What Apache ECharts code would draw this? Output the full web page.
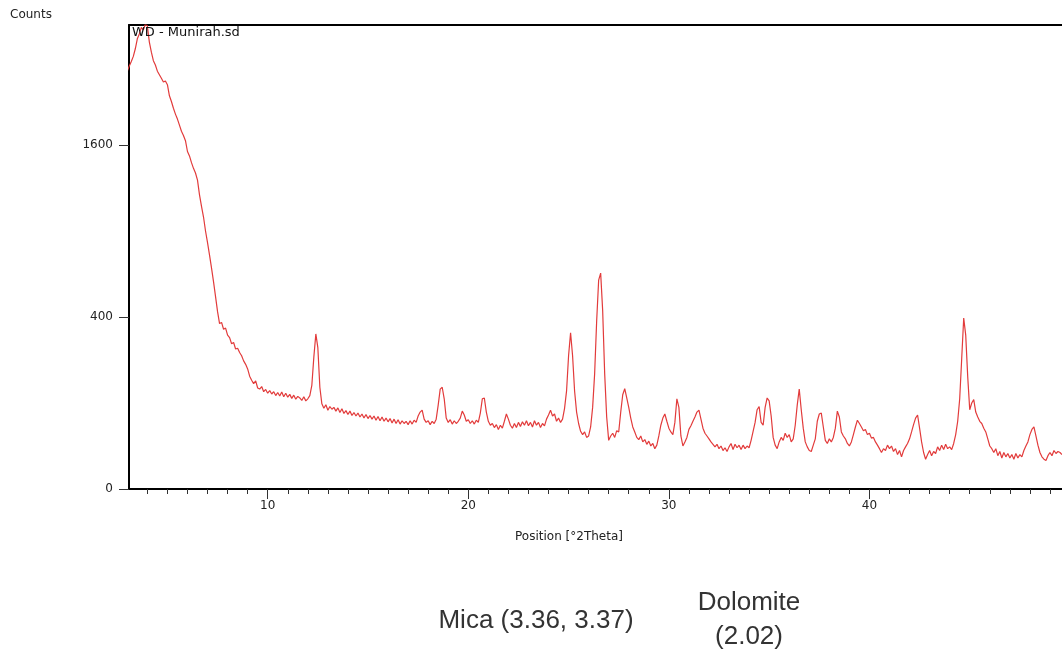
<!DOCTYPE html>
<html>
<head>
<meta charset="utf-8">
<script src="https://cdn.jsdelivr.net/npm/echarts@6/dist/echarts.min.js"></script>
<style>
  html, body { margin: 0; padding: 0; background: #fff; }
  #chart { width: 1062px; height: 651px; }
</style>
</head>
<body>
<div id="chart"></div>
<script>
// scan starts at 3.0 deg and steps 0.1 deg
var startAngle = 3.0;
var stepAngle = 0.1;

// counts, one row per degree (x.0 .. x.9)
var counts = [
  2360, 2420, 2470, 2530, 2620, 2740, 2800, 2880, 2850, 2920,   // 3
  2900, 2700, 2580, 2480, 2430, 2360, 2320, 2280, 2240, 2250,   // 4
  2210, 2090, 2030, 1960, 1900, 1850, 1790, 1730, 1690, 1640,   // 5
  1540, 1500, 1440, 1390, 1350, 1290, 1170, 1080, 1000, 900,    // 6
  820, 740, 660, 580, 500, 425, 370, 375, 345, 350,             // 7
  320, 310, 285, 290, 265, 268, 252, 240, 222, 210,             // 8
  195, 172, 160, 150, 158, 138, 135, 142, 128, 134,             // 9
  124, 131, 122, 128, 118, 126, 117, 127, 115, 124,             // 10
  114, 121, 111, 119, 109, 116, 112, 106, 115, 105,             // 11
  110, 118, 145, 235, 325, 270, 140, 98, 88, 96,                // 12
  84, 92, 86, 90, 82, 89, 79, 87, 77, 83,                       // 13
  75, 82, 73, 79, 72, 78, 70, 76, 68, 75,                       // 14
  67, 73, 66, 72, 64, 71, 63, 70, 62, 68,                       // 15
  61, 67, 59, 66, 58, 65, 57, 63, 58, 62,                       // 16
  56, 63, 57, 64, 60, 72, 80, 84, 66, 60,                       // 17
  63, 56, 62, 58, 66, 95, 135, 140, 110, 68,                    // 18
  60, 65, 57, 63, 58, 62, 68, 82, 74, 62,                       // 19
  65, 58, 63, 57, 64, 60, 78, 110, 112, 80,                     // 20
  62, 55, 58, 51, 56, 48, 55, 50, 62, 76,                       // 21
  66, 55, 50, 58, 51, 60, 53, 61, 55, 63,                       // 22
  54, 60, 52, 63, 55, 60, 51, 58, 54, 66,                       // 23
  74, 84, 72, 76, 62, 68, 60, 66, 88, 130,                      // 24
  240, 330, 240, 130, 80, 58, 45, 40, 44, 36,                   // 25
  38, 52, 90, 180, 380, 590, 630, 430, 180, 70,                 // 26
  32, 38, 42, 36, 46, 44, 80, 120, 136, 112,                    // 27
  90, 68, 52, 44, 36, 33, 38, 30, 33, 27,                       // 28
  31, 25, 28, 22, 26, 38, 55, 68, 76, 62,                       // 29
  50, 44, 40, 60, 110, 90, 38, 25, 30, 36,                      // 30
  48, 54, 62, 70, 80, 84, 66, 50, 42, 38,                       // 31
  34, 30, 27, 24, 27, 22, 25, 20, 23, 19,                       // 32
  24, 28, 21, 27, 23, 26, 21, 26, 22, 25,                       // 33
  23, 32, 45, 60, 85, 92, 60, 55, 90, 112,                      // 34
  105, 72, 36, 26, 22, 30, 36, 32, 42, 36,                      // 35
  40, 30, 34, 55, 95, 135, 85, 50, 30, 24,                      // 36
  20, 19, 26, 34, 62, 76, 78, 52, 32, 28,                       // 37
  34, 30, 36, 50, 82, 70, 44, 38, 34, 28,                       // 38
  25, 30, 40, 52, 64, 58, 52, 46, 48, 40,                       // 39
  42, 35, 36, 30, 26, 22, 18, 22, 20, 26,                       // 40
  22, 25, 19, 22, 16, 20, 14, 20, 24, 28,                       // 41
  34, 44, 56, 68, 74, 50, 30, 18, 12, 16,                       // 42
  20, 15, 19, 17, 24, 20, 26, 21, 27, 22,                       // 43
  24, 21, 28, 40, 62, 110, 230, 395, 320, 170,                  // 44
  85, 100, 108, 80, 70, 62, 58, 50, 44, 34,                     // 45
  25, 22, 18, 22, 15, 19, 13, 18, 14, 17,                       // 46
  13, 16, 12, 17, 13, 16, 14, 20, 25, 30,                       // 47
  40, 48, 52, 38, 26, 18, 14, 12, 11, 15,                       // 48
  18, 15, 20, 17, 19, 18, 16                                    // 49
];

var xLabelTicks = [10, 20, 30, 40];
var xMinorTicks = [4, 5, 6, 7, 8, 9, 11, 12, 13, 14, 15, 16, 17, 18, 19,
  21, 22, 23, 24, 25, 26, 27, 28, 29, 31, 32, 33, 34, 35, 36, 37, 38, 39,
  41, 42, 43, 44, 45, 46, 47, 48, 49];
var yLabelTicks = [0, 400, 1600];

// the y axis is drawn on a square-root scale
var points = counts.map(function (c, i) {
  var angle = Math.round((startAngle + i * stepAngle) * 10) / 10;
  return [angle, Math.sqrt(c)];
});

var chart = echarts.init(document.getElementById('chart'));

var labelFont = { fontFamily: 'DejaVu Sans', fontSize: 12, color: '#222' };
var xMin = 3.085, xMax = 49.6;

var option = {
  animation: false,
  backgroundColor: '#fff',
  grid: { left: 129, top: 25, width: 935, height: 464, show: false },
  xAxis: [
    {
      type: 'value', min: xMin, max: xMax,
      axisLine: { show: true, onZero: false, lineStyle: { color: '#000', width: 2 } },
      axisTick: { show: true, customValues: xLabelTicks, length: 10, lineStyle: { color: '#333' } },
      axisLabel: Object.assign({ customValues: xLabelTicks, margin: 11 }, labelFont),
      splitLine: { show: false }
    },
    {
      type: 'value', min: xMin, max: xMax, position: 'bottom',
      axisLine: { show: false },
      axisTick: { show: true, customValues: xMinorTicks, length: 5, lineStyle: { color: '#333' } },
      axisLabel: { show: false },
      splitLine: { show: false }
    },
    {
      // top frame line
      type: 'value', min: xMin, max: xMax, position: 'top',
      axisLine: { show: true, onZero: false, lineStyle: { color: '#000', width: 2 } },
      axisTick: { show: false },
      axisLabel: { show: false },
      splitLine: { show: false }
    }
  ],
  yAxis: {
    type: 'value', min: 0, max: 53.95,
    axisLine: { show: true, lineStyle: { color: '#000', width: 2 } },
    axisTick: { show: true, customValues: yLabelTicks.map(Math.sqrt), length: 10, lineStyle: { color: '#333' } },
    axisLabel: Object.assign({
      customValues: yLabelTicks.map(Math.sqrt), margin: 16,
      formatter: function (v) { return String(Math.round(v * v)); }
    }, labelFont),
    splitLine: { show: false }
  },
  series: [
    {
      type: 'line',
      xAxisIndex: 0,
      data: points,
      showSymbol: false,
      clip: true,
      lineStyle: { color: '#e23b3b', width: 1.2 }
    }
  ],
  graphic: [
    { type: 'text', left: 10, top: 9, z: 100,
      style: { text: 'Counts', font: '12px "DejaVu Sans"', fill: '#222' } },
    { type: 'text', left: 132, top: 26, z: 100,
      style: { text: 'WD - Munirah.sd', font: '13px "DejaVu Sans"', fill: '#111' } },
    { type: 'text', x: 569, y: 537, z: 100,
      style: { text: 'Position [°2Theta]', font: '12px "DejaVu Sans"', fill: '#222',
        textAlign: 'center', textVerticalAlign: 'middle' } },
    { type: 'text', x: 536, y: 621, z: 100,
      style: { text: 'Mica (3.36, 3.37)', font: '26px "Liberation Sans"', fill: '#333',
        textAlign: 'center', textVerticalAlign: 'middle' } },
    { type: 'text', x: 749, y: 603, z: 100,
      style: { text: 'Dolomite', font: '26px "Liberation Sans"', fill: '#333',
        textAlign: 'center', textVerticalAlign: 'middle' } },
    { type: 'text', x: 749, y: 637, z: 100,
      style: { text: '(2.02)', font: '26px "Liberation Sans"', fill: '#333',
        textAlign: 'center', textVerticalAlign: 'middle' } }
  ]
};

chart.setOption(option);
</script>
</body>
</html>
